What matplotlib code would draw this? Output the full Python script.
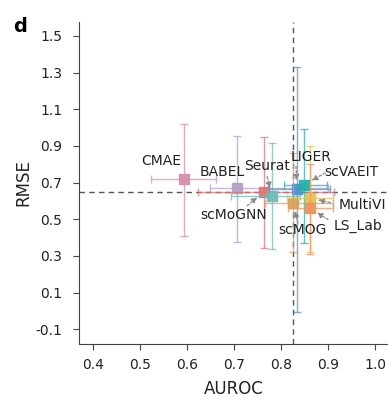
import numpy as np
import matplotlib.pyplot as plt

plt.rcParams['font.family'] = ['DejaVu Sans']
plt.rcParams['font.size'] = 10

# AUROC / RMSE per method: point estimate with lower/upper range
methods = ['CMAE', 'BABEL', 'scMoGNN', 'Seurat', 'LIGER', 'scVAEIT', 'scMOG', 'MultiVI', 'LS_Lab']
auroc = [0.594, 0.706, 0.763, 0.780, 0.834, 0.850, 0.825, 0.862, 0.862]
auroc_lo = [0.524, 0.650, 0.623, 0.693, 0.775, 0.806, 0.767, 0.813, 0.814]
auroc_hi = [0.662, 0.900, 0.912, 0.840, 0.905, 0.897, 0.910, 0.911, 0.910]
rmse = [0.718, 0.671, 0.649, 0.625, 0.667, 0.689, 0.589, 0.616, 0.562]
rmse_lo = [0.409, 0.377, 0.346, 0.340, -0.008, 0.373, 0.322, 0.322, 0.310]
rmse_hi = [1.021, 0.955, 0.949, 0.917, 1.328, 0.993, 0.862, 0.900, 0.800]

colors = ['#d68fb0', '#b3a0c9', '#dd7676', '#6fbdb7', '#4f93cf',
          '#22b3ac', '#d6a35c', '#e4c454', '#ef935c']

# label placement (data coords) and where the pointer arrow starts
label_pos = {
    'CMAE': (0.545, 0.820),
    'BABEL': (0.674, 0.758),
    'scMoGNN': (0.700, 0.525),
    'Seurat': (0.770, 0.789),
    'LIGER': (0.864, 0.838),
    'scVAEIT': (0.950, 0.758),
    'scMOG': (0.846, 0.439),
    'MultiVI': (0.973, 0.576),
    'LS_Lab': (0.964, 0.465),
}
arrow_from = {
    'scMoGNN': (0.728, 0.574),
    'Seurat': (0.771, 0.733),
    'LIGER': (0.832, 0.789),
    'scVAEIT': (0.894, 0.753),
    'scMOG': (0.836, 0.480),
    'MultiVI': (0.905, 0.591),
    'LS_Lab': (0.900, 0.498),
}

fig = plt.figure(figsize=(3.88, 3.99), dpi=100)
ax = fig.add_axes([79/388, 55/399, 1 - 79/388, 322/399])

ax.axvline(np.median(auroc), color='#555555', ls=(0, (4, 3)), lw=1, zorder=1)
ax.axhline(np.median(rmse), color='#555555', ls=(0, (4, 3)), lw=1, zorder=1)

for i, m in enumerate(methods):
    xerr = [[auroc[i] - auroc_lo[i]], [auroc_hi[i] - auroc[i]]]
    yerr = [[rmse[i] - rmse_lo[i]], [rmse_hi[i] - rmse[i]]]
    ax.errorbar(auroc[i], rmse[i], xerr=xerr, yerr=yerr, fmt='none',
                ecolor=colors[i], elinewidth=1, capsize=3, alpha=0.75,
                zorder=2 + i)
    ax.plot(auroc[i], rmse[i], 's', ms=7.5, color=colors[i], alpha=0.95,
            zorder=2.5 + i)

for i, m in enumerate(methods):
    tx, ty = label_pos[m]
    ax.text(tx, ty, m, ha='center', va='center', color='#222222', zorder=20)
    if m in arrow_from:
        ax.annotate('', xy=(auroc[i], rmse[i]), xytext=arrow_from[m],
                    arrowprops=dict(arrowstyle='-|>', color='#888888', lw=0.9,
                                    ls=(0, (2, 1.5)), mutation_scale=8,
                                    shrinkA=0, shrinkB=6),
                    zorder=20)

ax.set_xlim(0.3702, 1.0277)
ax.set_ylim(-0.180, 1.576)
ax.set_xticks(np.arange(0.4, 1.01, 0.1))
ax.set_xticklabels([f'{v:.1f}' for v in np.arange(0.4, 1.01, 0.1)])
ax.set_yticks(np.arange(-0.1, 1.51, 0.2))
ax.set_yticklabels([f'{v:.1f}' for v in np.arange(-0.1, 1.51, 0.2)])

for s in ['top', 'right']:
    ax.spines[s].set_visible(False)
for s in ['left', 'bottom']:
    ax.spines[s].set_color('#444444')
ax.tick_params(direction='out', length=4, color='#444444', labelcolor='#222222')
ax.tick_params(axis='x', pad=6)
ax.tick_params(axis='y', pad=8)

ax.set_xlabel('AUROC', fontsize=12, labelpad=6, color='#222222')
ax.set_ylabel('RMSE', fontsize=12, labelpad=2, color='#222222')

fig.text(0.034, 1 - 32/399, 'd', fontsize=14, fontweight='bold', va='baseline')

fig.savefig('out.png', dpi=100)
